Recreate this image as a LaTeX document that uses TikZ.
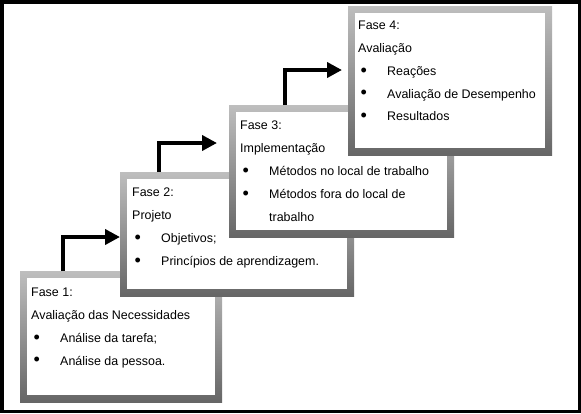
\documentclass[tikz,border=0pt]{standalone}
\usepackage{fontspec}
\setmainfont{Liberation Sans}
\usetikzlibrary{arrows.meta}
\definecolor{framelight}{HTML}{BEBEBE}
\definecolor{framedark}{HTML}{666666}
\newcommand{\bitem}[1]{\makebox[29bp][l]{\hspace{2.5bp}\raisebox{-0.9bp}{\scalebox{1.45}{\textbullet}}}#1}

\begin{document}
\begin{tikzpicture}[x=1bp,y=-1bp,
        phase/.style={rectangle,inner sep=0pt,outer sep=0pt,anchor=north west,
                      top color=framelight,bottom color=framedark,
                      path picture={\fill[white]
                        ([shift={(7bp,-7bp)}]path picture bounding box.north west) rectangle
                        ([shift={(-7bp,7bp)}]path picture bounding box.south east);}},
        phasetext/.style={anchor=north west,inner sep=0pt,align=left,
                          font=\fontsize{12.5}{23}\selectfont},
        stair/.style={line width=4.5bp,-{Triangle[length=15bp,width=15bp]}}]
  \useasboundingbox (0,0) rectangle (581,413);
  \draw[line width=3.5bp] (1.75,1.75) rectangle (579.25,411.25);
  % the four phases
  \node[phase,minimum width=202bp,minimum height=131bp](f1) at(20,271){};
  \node[phasetext](t1) at(31,287.5){Fase 1:\\Avaliação das Necessidades\\
    \bitem{Análise da tarefa;}\\\bitem{Análise da pessoa.}};
  \node[phase,minimum width=234bp,minimum height=124bp](f2) at(120,172){};
  \node[phasetext](t2) at(132,187.5){Fase 2:\\Projeto\\
    \bitem{Objetivos;}\\\bitem{Princípios de aprendizagem.}};
  \node[phase,minimum width=225bp,minimum height=132bp](f3) at(229,105){};
  \node[phasetext](t3) at(240,120.5){Fase 3:\\Implementação\\
    \bitem{Métodos no local de trabalho}\\\bitem{Métodos fora do local de}\\
    \hspace{29bp}trabalho};
  \node[phase,minimum width=204bp,minimum height=149bp](f4) at(348,6){};
  \node[phasetext](t4) at(358,20.5){Fase 4:\\Avaliação\\
    \bitem{Reações}\\\bitem{Avaliação de Desempenho}\\\bitem{Resultados}};
  % steps
  \draw[stair]([xshift=43bp]f1.north west) |- ([yshift=-65bp]f2.north west);
  \draw[stair]([xshift=39bp]f2.north west) |- ([shift={(-12bp,-38bp)}]f3.north west);
  \draw[stair]([xshift=56bp]f3.north west) |- ([shift={(-6bp,-64bp)}]f4.north west);
\end{tikzpicture}
\end{document}
